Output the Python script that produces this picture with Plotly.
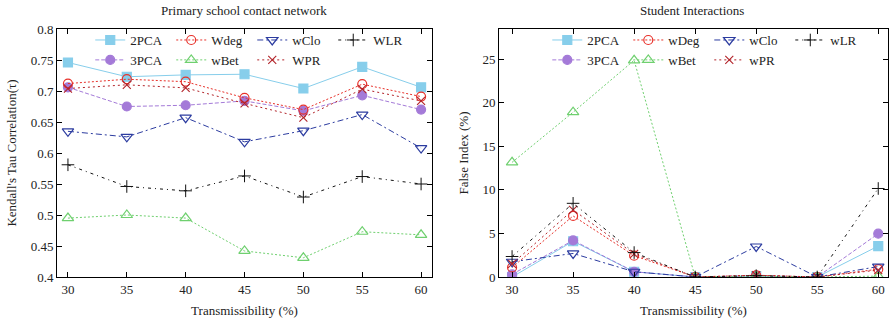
import plotly.graph_objects as go

x_vals = [30, 35, 40, 45, 50, 55, 60]

# Left panel: Primary school contact network (Kendall's tau)
left_names = ["2PCA", "3PCA", "Wdeg", "wBet", "wClo", "WPR", "WLR"]
left_2pca = [0.746, 0.723, 0.726, 0.727, 0.704, 0.739, 0.706]
left_3pca = [0.706, 0.675, 0.677, 0.684, 0.668, 0.693, 0.670]
left_wdeg = [0.712, 0.719, 0.715, 0.689, 0.670, 0.711, 0.691]
left_wbet = [0.495, 0.500, 0.495, 0.442, 0.431, 0.473, 0.468]
left_wclo = [0.635, 0.626, 0.657, 0.618, 0.636, 0.662, 0.608]
left_wpr = [0.704, 0.710, 0.705, 0.680, 0.657, 0.703, 0.684]
left_wlr = [0.581, 0.546, 0.539, 0.563, 0.529, 0.562, 0.550]

# Right panel: Student Interactions (False index %)
right_names = ["2PCA", "3PCA", "wDeg", "wBet", "wClo", "wPR", "wLR"]
right_2pca = [0.0, 4.1, 0.6, 0.0, 0.1, 0.0, 3.55]
right_3pca = [0.3, 4.2, 0.6, 0.0, 0.15, 0.0, 4.97]
right_wdeg = [1.1, 7.0, 2.45, 0.0, 0.2, 0.0, 0.9]
right_wbet = [13.15, 18.9, 24.85, 0.0, 0.1, 0.0, 0.1]
right_wclo = [1.75, 2.7, 0.6, 0.0, 3.5, 0.0, 1.2]
right_wpr = [1.5, 7.7, 2.65, 0.0, 0.2, 0.0, 0.8]
right_wlr = [2.35, 8.45, 2.8, 0.0, 0.15, 0.0, 10.15]

left_yticks = [0.4, 0.45, 0.5, 0.55, 0.6, 0.65, 0.7, 0.75, 0.8]
left_yticktext = ["0.4", "0.45", "0.5", "0.55", "0.6", "0.65", "0.7", "0.75", "0.8"]
right_yticks = [0, 5, 10, 15, 20, 25]
x_ticks = [30, 35, 40, 45, 50, 55, 60]

FONT = "Liberation Serif"
TXT = "#222222"

styles = [
    dict(color="#87ceeb", dash="solid", symbol="square", size=9, lw=1.2, group=1),
    dict(color="#a47ad8", dash="4px,2px", symbol="circle", size=9, lw=1.2, group=1),
    dict(color="#e8312a", dash="2px,2px", symbol="circle-open", size=9, lw=1.2, group=2),
    dict(color="#6fd06f", dash="2px,2px", symbol="triangle-up-open", size=10, lw=1.2, group=2),
    dict(color="#2c3ca0", dash="6px,3px,2px,3px", symbol="triangle-down-open", size=10, lw=1.2, group=3),
    dict(color="#b22228", dash="2px,3px", symbol="x-thin-open", size=8, lw=1.1, group=3),
    dict(color="#111111", dash="3px,4px,1px,4px", symbol="cross-thin-open", size=9, lw=1.0, group=4),
]

fig = go.Figure()

left_series = [left_2pca, left_3pca, left_wdeg, left_wbet, left_wclo, left_wpr, left_wlr]
right_series = [right_2pca, right_3pca, right_wdeg, right_wbet, right_wclo, right_wpr, right_wlr]

for name, ys, st in zip(left_names, left_series, styles):
    fig.add_trace(go.Scatter(
        x=x_vals, y=ys, name=name, mode="lines+markers",
        line=dict(color=st["color"], dash=st["dash"], width=1),
        marker=dict(symbol=st["symbol"], size=st["size"], color=st["color"],
                    line=dict(color=st["color"], width=st["lw"])),
        legendgroup="L%d" % st["group"], legend="legend",
        xaxis="x", yaxis="y",
    ))

for name, ys, st in zip(right_names, right_series, styles):
    fig.add_trace(go.Scatter(
        x=x_vals, y=ys, name=name, mode="lines+markers",
        line=dict(color=st["color"], dash=st["dash"], width=1),
        marker=dict(symbol=st["symbol"], size=st["size"], color=st["color"],
                    line=dict(color=st["color"], width=st["lw"])),
        legendgroup="R%d" % st["group"], legend="legend2",
        xaxis="x2", yaxis="y2",
    ))

axis_common = dict(
    showline=True, linecolor="black", linewidth=1, mirror="ticks",
    ticks="inside", ticklen=5, tickcolor="black", showgrid=False, zeroline=False,
    tickfont=dict(family=FONT, size=13, color=TXT),
)

legend_common = dict(
    orientation="h", traceorder="grouped", tracegroupgap=0,
    font=dict(family=FONT, size=13, color=TXT),
    bgcolor="rgba(0,0,0,0)", borderwidth=0, yanchor="top", xanchor="left",
    entrywidth=36, itemwidth=30,
)

fig.update_layout(
    width=889, height=322,
    margin=dict(l=57, r=1, t=29, b=45),
    paper_bgcolor="white", plot_bgcolor="white",
    font=dict(family=FONT, size=13, color=TXT),
    xaxis=dict(domain=[0, 0.4513], range=[29.07, 60.93], tickvals=x_ticks,
               title=dict(text="Transmissibility (%)", standoff=10,
                          font=dict(family=FONT, size=13, color=TXT)),
               **axis_common),
    yaxis=dict(domain=[0, 1], range=[0.4, 0.8], tickvals=left_yticks, ticktext=left_yticktext,
               title=dict(text="Kendall's Tau Correlation(τ)", standoff=11,
                          font=dict(family=FONT, size=13, color=TXT)),
               **axis_common),
    xaxis2=dict(domain=[0.5319, 1.0], range=[28.93, 60.8], tickvals=x_ticks, anchor="y2",
                title=dict(text="Transmissibility (%)", standoff=10,
                           font=dict(family=FONT, size=13, color=TXT)),
                **axis_common),
    yaxis2=dict(domain=[0, 1], range=[0, 28.44], tickvals=right_yticks, anchor="x2",
                title=dict(text="False Index (%)", standoff=10,
                           font=dict(family=FONT, size=13, color=TXT)),
                **axis_common),
    legend=dict(x=0.04, y=1.016, **legend_common),
    legend2=dict(x=0.59, y=1.016, **legend_common),
    annotations=[
        dict(text="Primary school contact network", xref="paper", yref="paper",
             x=0.2256, y=1.0, yshift=19, xanchor="center", yanchor="middle", showarrow=False,
             font=dict(family=FONT, size=13, color=TXT)),
        dict(text="Student Interactions", xref="paper", yref="paper",
             x=0.7641, y=1.0, yshift=19, xanchor="center", yanchor="middle", showarrow=False,
             font=dict(family=FONT, size=13, color=TXT)),
    ],
)

# remove the default page margin so the figure fills the window exactly
fig.write_html("out.html",
               config={"displayModeBar": False},
               post_script="document.body.style.margin='0';document.body.style.padding='0';")
